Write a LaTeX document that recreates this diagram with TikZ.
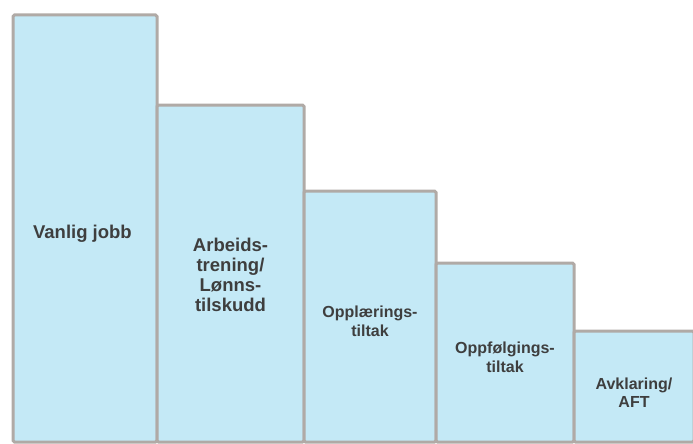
\documentclass[tikz,border=0pt]{standalone}
\usepackage{fontspec}
\setsansfont{Liberation Sans}
\usetikzlibrary{positioning}
\definecolor{barfill}{RGB}{196, 233, 246}
\definecolor{barline}{RGB}{176, 170, 166}
\definecolor{bartext}{RGB}{62, 62, 62}

\begin{document}
\begin{tikzpicture}[
    x=1pt, y=1pt,
    % Bar style
    bar/.style={
        rectangle,
        rounded corners=1.5pt,
        fill=barfill,
        draw=barline,
        line width=3pt,
        outer sep=0pt
    },
    % Label styles
    bartitle/.style={
        align=center,
        text=bartext,
        inner sep=0pt
    },
    bigtext/.style={font=\sffamily\bfseries\fontsize{18.5}{20}\selectfont},
    smalltext/.style={font=\sffamily\bfseries\fontsize{16}{18.5}\selectfont}
]

% ===== FRAME =====
\path[use as bounding box] (0,0) rectangle (693,-444);
\clip (0,0) rectangle (693,-444);

% ===== BARS (left to right, falling) =====

% Bar 1: Vanlig jobb
\node[bar, minimum width=144pt, minimum height=427pt, anchor=south west] (jobb) at (13,-442) {};

% Bar 2: Arbeidstrening / Lønnstilskudd
\node[bar, minimum width=147pt, minimum height=337pt,
      above right=0pt and 0pt of jobb.south east] (trening) {};

% Bar 3: Opplæringstiltak
\node[bar, minimum width=132pt, minimum height=251pt,
      above right=0pt and 0pt of trening.south east] (opplaering) {};

% Bar 4: Oppfølgingstiltak
\node[bar, minimum width=138pt, minimum height=179pt,
      above right=0pt and 0pt of opplaering.south east] (oppfolging) {};

% Bar 5: Avklaring / AFT (runs past the right edge)
\node[bar, minimum width=120pt, minimum height=111pt,
      above right=0pt and 0pt of oppfolging.south east] (avklaring) {};

% ===== BAR TEXTS =====

\node[bartitle, bigtext] (jobbtext) at ([yshift=-5pt]jobb.center) {
    Vanlig jobb
};

\node[bartitle, bigtext] (treningtext) at ([yshift=-1pt]trening.center) {
    Arbeids-\\trening/\\Lønns-\\tilskudd
};

\node[bartitle, smalltext] (opplaeringtext) at ([yshift=-5pt]opplaering.center) {
    Opplærings-\\tiltak
};

\node[bartitle, smalltext] (oppfolgingtext) at ([yshift=-5pt]oppfolging.center) {
    Oppfølgings-\\tiltak
};

\node[bartitle, smalltext] (avklaringtext) at ([yshift=-6pt]avklaring.center) {
    Avklaring/\\AFT
};

\end{tikzpicture}
\end{document}
